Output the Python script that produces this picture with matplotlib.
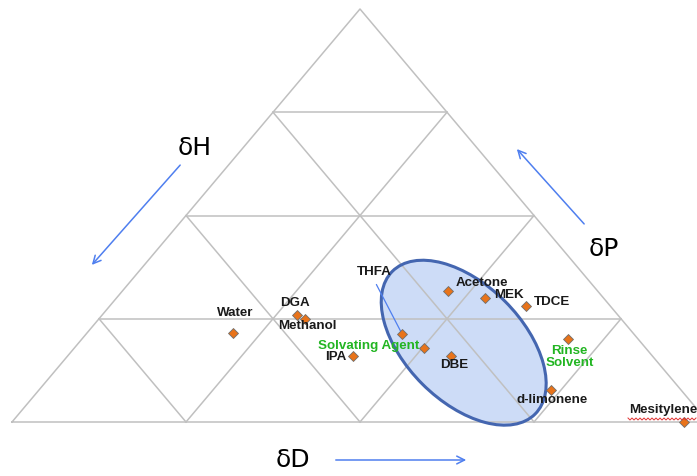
import matplotlib.pyplot as plt
import numpy as np
from matplotlib.patches import Ellipse

# доли параметров Хансена (%)
names = ["Water", "DGA", "Methanol", "THFA", "Acetone", "MEK", "TDCE",
         "Solvating Agent", "IPA", "DBE", "Rinse\nSolvent", "d-limonene", "Mesitylene"]
fd = np.array([21.0, 28.0, 29.6, 45.4, 46.8, 52.9, 59.8, 50.2, 41.0, 55.1, 69.8, 73.6, 96.6])
fp = np.array([21.5, 26.0, 25.0, 21.3, 31.7, 30.0, 28.1, 17.9, 16.0, 16.0, 20.1, 7.7, 0.0])
fh = 100 - fd - fp
green = [False, False, False, False, False, False, False, True, False, False, True, False, False]

# область растворимости (центр в долях)
ell_fd, ell_fp = 55.3, 19.2

H = 413 / 696                                   # высота треугольника


def tern(d, p):
    d = np.asarray(d, dtype=float)
    p = np.asarray(p, dtype=float)
    return d / 100 + p / 200, p / 100 * H


fig = plt.figure(figsize=(6.97, 4.76), dpi=100)
ax = fig.add_axes([0, 0, 1, 1])
ax.set_xlim(-12 / 696, 685 / 696)
ax.set_ylim(-54 / 696, 422 / 696)
ax.axis("off")

gcol = "#c0c0c0"
# сетка треугольника
tx, ty = tern([0, 100, 0, 0], [0, 0, 100, 0])
ax.plot(tx, ty, color=gcol, lw=1.1, zorder=2)
for k in (25, 50, 75):
    for d, p in (([0, 100 - k], [k, k]), ([k, k], [0, 100 - k]), ([100 - k, 0], [0, 100 - k])):
        gx, gy = tern(d, p)
        ax.plot(gx, gy, color=gcol, lw=1.1, zorder=2)

# эллипс
ex, ey = tern(ell_fd, ell_fp)
ax.add_patch(Ellipse((ex, ey), 0.29, 0.168, angle=-45, facecolor="#cddcf7",
                     edgecolor="none", zorder=1))
ax.add_patch(Ellipse((ex, ey), 0.29, 0.168, angle=-45, facecolor="none",
                     edgecolor="#4466b0", lw=2.2, zorder=3))

# точки растворителей
px, py = tern(fd, fp)
ax.plot(px, py, "D", color="#e8731a", markeredgecolor="#6f6f6f",
        markeredgewidth=0.6, markersize=5.5, ls="none", zorder=5)

offsets = [(2, 20), (-2, 12), (2, -7), (-28, 62), (34, 8), (24, 3), (26, 4),
           (-55, 2), (-17, -1), (3, -9), (2, -18), (1, -10), (-21, 12)]
for i, name in enumerate(names):
    ax.annotate(name, (px[i], py[i]), xytext=offsets[i], textcoords="offset pixels",
                ha="center", va="center", fontsize=9.6, linespacing=1.0,
                family="Liberation Sans", weight="bold",
                color="#22b522" if green[i] else "#1a1a1a", zorder=6)

# выноска THFA
ax.annotate("", (px[3], py[3]), xytext=(-27, 52), textcoords="offset pixels",
            arrowprops=dict(arrowstyle="-", color="#4f7fef", lw=0.9), zorder=4)

# волнистое подчёркивание у Mesitylene
wx = np.arange(628, 697, 2.0)
wy = 476 - 419 + np.where(np.arange(len(wx)) % 2 == 0, 1.0, -1.0)
ax.plot(wx, wy, color="#e03030", lw=0.7, transform=None, zorder=6)

# оси δD, δP, δH
acol = "#4f7fef"


def fpix(x, y):
    return (x, 476 - y)


arrows = [((182, 163), (90, 267)), ((586, 226), (515, 147)), ((333, 460), (469, 460))]
for a, b in arrows:
    ax.annotate("", fpix(*b), xytext=fpix(*a), xycoords="figure pixels",
                textcoords="figure pixels",
                arrowprops=dict(arrowstyle="->", color=acol, lw=1.1,
                                mutation_scale=14))

for txt, pos in (("δH", (195, 148)), ("δP", (604, 249)), ("δD", (293, 460))):
    ax.annotate(txt, fpix(*pos), xycoords="figure pixels", ha="center", va="center",
                fontsize=18, color="black")

fig.savefig("out.png", dpi=100)
